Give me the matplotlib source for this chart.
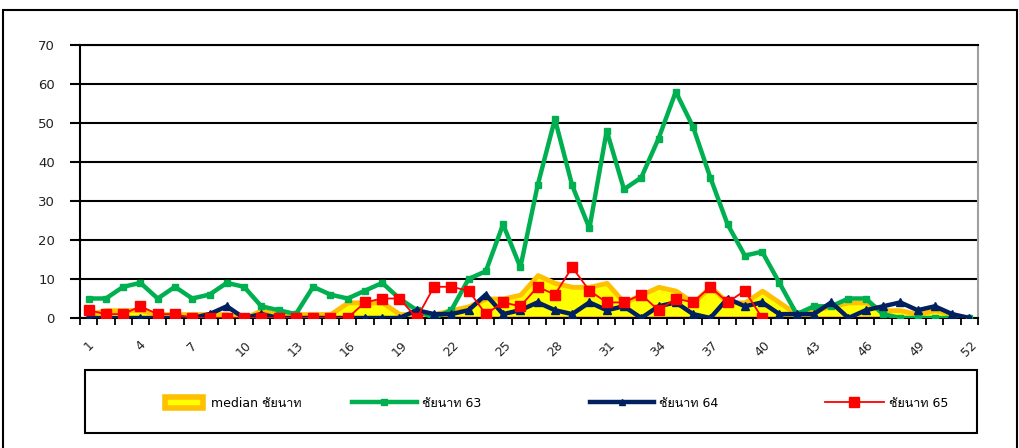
import matplotlib
matplotlib.use("Agg")
import matplotlib.pyplot as plt
from matplotlib import font_manager
from matplotlib.ft2font import FT2Font
from matplotlib.patches import Patch, Rectangle
from matplotlib.lines import Line2D

# ข้อมูลรายสัปดาห์
weeks = list(range(1, 53))
median = [1, 2, 2, 2, 1, 1, 1, 1, 1, 0,
          2, 1, 1, 1, 1, 4, 4, 4, 1, 1,
          1, 2, 3, 5, 5, 6, 11, 9, 8, 8,
          9, 4, 6, 8, 7, 4, 8, 4, 4, 7,
          4, 1, 2, 3, 4, 4, 2, 2, 1, 2,
          1, 0]
chainat_63 = [5, 5, 8, 9, 5, 8, 5, 6, 9, 8,
              3, 2, 1, 8, 6, 5, 7, 9, 5, 2,
              0, 2, 10, 12, 24, 13, 34, 51, 34, 23,
              48, 33, 36, 46, 58, 49, 36, 24, 16, 17,
              9, 1, 3, 3, 5, 5, 1, 0, 0, 0,
              0, 0]
chainat_64 = [0, 0, 0, 0, 0, 0, 0, 1, 3, 0,
              1, 0, 0, 0, 0, 0, 0, 0, 0, 2,
              1, 1, 2, 6, 1, 2, 4, 2, 1, 4,
              2, 3, 0, 3, 4, 1, 0, 5, 3, 4,
              1, 1, 1, 4, 0, 2, 3, 4, 2, 3,
              1, 0]
chainat_65 = [2, 1, 1, 3, 1, 1, 0, 0, 0, 0,
              0, 0, 0, 0, 0, 0, 4, 5, 5, 0,
              8, 8, 7, 1, 4, 3, 8, 6, 13, 7,
              4, 4, 6, 2, 5, 4, 8, 4, 7, 0]
tick_weeks = [1, 4, 7, 10, 13, 16, 19, 22, 25, 28, 31, 34, 37, 40, 43, 46, 49, 52]
tick_labels = ["1", "4", "7", "10", "13", "16", "19", "22", "25",
               "28", "31", "34", "37", "40", "43", "46", "49", "52"]
labels = ["median ชัยนาท", "ชัยนาท 63", "ชัยนาท 64", "ชัยนาท 65"]

# หาฟอนต์ที่มีอักษรไทย
thai_font = None
for f in font_manager.fontManager.ttflist:
    try:
        if 0x0E0A in FT2Font(f.fname).get_charmap():
            thai_font = f.name
            break
    except Exception:
        pass
plt.rcParams["font.family"] = ["DejaVu Sans"] + ([thai_font] if thai_font else [])

fig = plt.figure(figsize=(10.2, 4.48), dpi=100)
ax = fig.add_axes([80 / 1020, 1 - 318 / 448, 898 / 1020, 273 / 448])

ax.fill_between(weeks, median, color="#FFFF00", edgecolor="#FFC000", lw=3.5, zorder=2)
ax.plot(weeks, chainat_63, color="#00B050", lw=3.2, marker="s", ms=4.5, zorder=3)
ax.plot(weeks, chainat_64, color="#002060", lw=3.2, marker="^", ms=6, zorder=4)
ax.plot(weeks[:len(chainat_65)], chainat_65, color="#FF0000", lw=1.3, marker="s", ms=7.5, zorder=5)

ax.set_xlim(0.5, 52.5)
ax.set_ylim(0, 70)
ax.set_yticks(range(0, 71, 10))
ax.yaxis.grid(True, color="black", lw=1.5, zorder=1)
ax.set_axisbelow(True)
ax.tick_params(axis="y", length=7, width=1.5, pad=11, labelsize=9.5, labelcolor="#222222")

ax.set_xticks(tick_weeks)
ax.set_xticklabels(tick_labels, rotation=45, ha="center", fontsize=9, color="#222222")
ax.set_xticks([w - 0.5 for w in weeks] + [52.5], minor=True)
ax.tick_params(axis="x", which="major", length=0, pad=15)
ax.tick_params(axis="x", which="minor", length=5, width=1.3)

for side in ["left", "bottom", "top"]:
    ax.spines[side].set_color("black")
    ax.spines[side].set_linewidth(1.5)
ax.spines["right"].set_color("#A0A0A0")
ax.spines["right"].set_linewidth(1.5)

# คำอธิบายสัญลักษณ์ แยกแต่ละรายการให้ตรงตำแหน่ง
handles = [
    Patch(facecolor="#FFFF00", edgecolor="#FFC000", lw=4),
    Line2D([], [], color="#00B050", lw=3.2, marker="s", ms=4),
    Line2D([], [], color="#002060", lw=3.2, marker="^", ms=5),
    Line2D([], [], color="#FF0000", lw=1.3, marker="s", ms=7.5),
]
leg_x = [165, 352, 590, 825]
leg_len = [3.0, 5.2, 5.1, 4.7]
leg_gap = [0.7, 0.4, 0.4, 0.4]
for h, lab, x0, hl, gap in zip(handles, labels, leg_x, leg_len, leg_gap):
    leg = fig.legend([h], [lab], loc="center left", bbox_to_anchor=(x0 / 1020, 1 - 403 / 448),
                     frameon=False, handlelength=hl, handletextpad=gap, handleheight=1.0,
                     fontsize=9, borderpad=0, borderaxespad=0, numpoints=1)

fig.add_artist(Rectangle((85 / 1020, 1 - 433 / 448), 892 / 1020, 63 / 448,
                         transform=fig.transFigure, fill=False, ec="black", lw=1.5))

# กรอบนอก
fig.add_artist(Rectangle((3 / 1020, -0.05), 1014 / 1020, 1 - 10 / 448 + 0.05,
                         transform=fig.transFigure, fill=False, ec="black", lw=1.5))

fig.savefig("out.png", dpi=100)
